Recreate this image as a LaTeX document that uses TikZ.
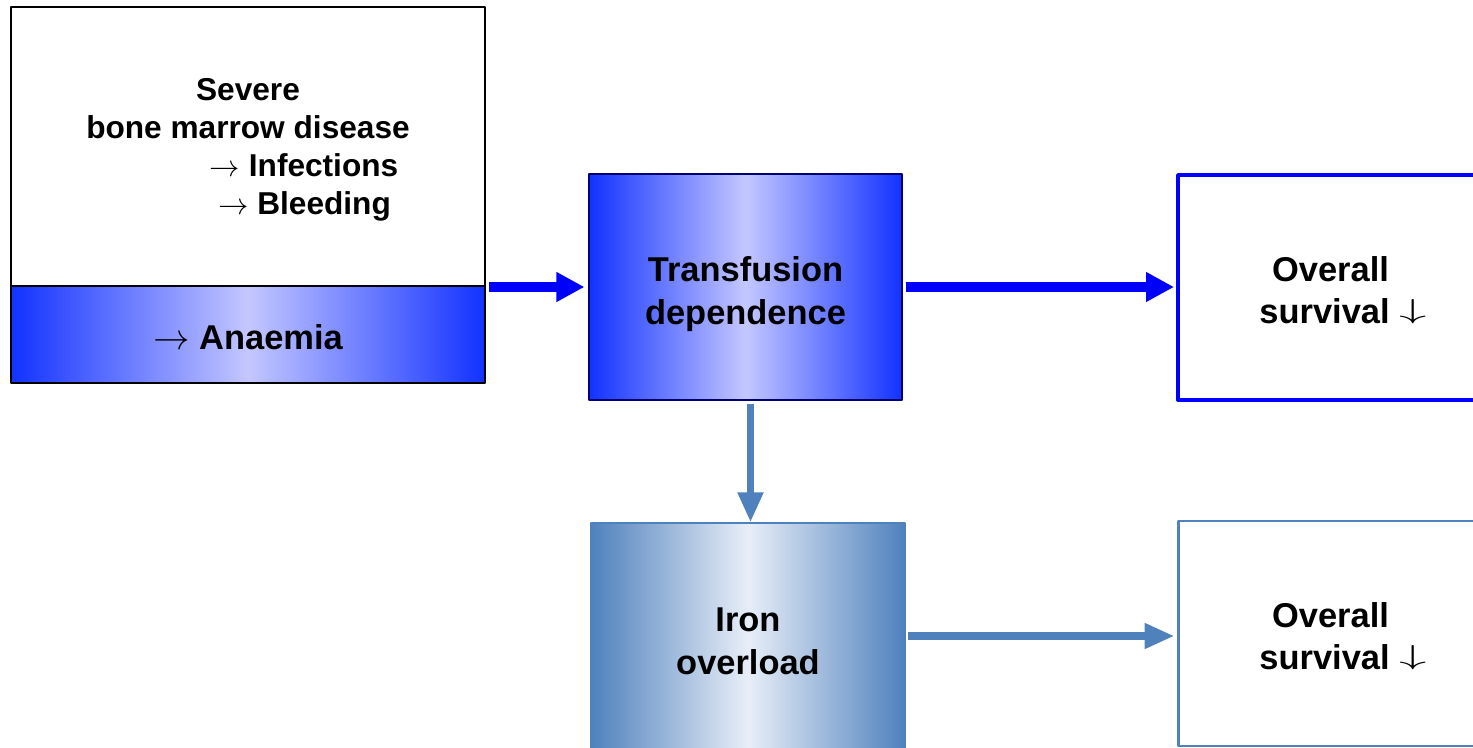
\documentclass[tikz,border=0pt]{standalone}
\usepackage{fontspec}
\setmainfont{Liberation Sans}
\usetikzlibrary{arrows.meta}
\definecolor{vivid}{HTML}{0000FF}
\definecolor{deepblue}{HTML}{1232FF}
\definecolor{paleblue}{HTML}{C4C7FF}
\definecolor{steel}{HTML}{4F81BD}
\definecolor{palesteel}{HTML}{E8EEF8}
\newcommand{\fallarrow}{\raisebox{0.1cm}{\scalebox{1.5}[0.75]{$\downarrow$}}}
\begin{document}
\begin{tikzpicture}[line join=round,
		box/.style={rectangle,inner sep=0pt,align=center,font=\bfseries\fontsize{19.6}{24}\selectfont},
		blueshade/.style={box,left color=deepblue,right color=deepblue,middle color=paleblue,draw=blue!45!black,line width=0.6pt},
		steelshade/.style={box,left color=steel,right color=steel,middle color=palesteel,draw=steel,line width=0.6pt},
		bluearrow/.style={draw=vivid,line width=5.7pt,-{Triangle[length=0.56cm,width=0.56cm]}},
		steelarrow/.style={draw=steel,line width=4.5pt,-{Triangle[length=0.6cm,width=0.48cm]}}]
			\useasboundingbox (0,0) rectangle (29.46,14.94);
			\clip (0,0) rectangle (29.46,14.94);
			% left column
			\node[box,draw=black,line width=1.1pt,minimum width=9.48cm,minimum height=5.58cm,font=\bfseries\fontsize{18}{21.6}\selectfont] (disease) at (4.96,12.01)
				{\rule{0pt}{0.57cm}Severe\\bone marrow disease\\\hspace*{2.24cm}$\rightarrow$ Infections\\\hspace*{2.26cm}$\rightarrow$ Bleeding};
			\node[blueshade,draw=black,line width=1.1pt,minimum width=9.48cm,minimum height=1.94cm] (anaemia) at (4.96,8.25) {\rule{0pt}{0.61cm}$\rightarrow$ Anaemia};
			% middle column
			\node[blueshade,minimum width=6.26cm,minimum height=4.52cm] (transfusion) at (14.91,9.2) {\rule{0pt}{0.78cm}Transfusion\\dependence};
			\node[steelshade,minimum width=6.28cm,minimum height=4.52cm] (iron) at (14.96,2.22) {\rule{0pt}{0.69cm}Iron\\overload};
			% right column
			\node[box,draw=vivid,line width=2.2pt,minimum width=6.1cm,minimum height=4.5cm] (survivalA) at (26.61,9.19) {\rule{0pt}{0.62cm}Overall\\\hspace*{0.5cm}survival \fallarrow};
			\node[box,draw=steel,line width=1.7pt,minimum width=6.1cm,minimum height=4.5cm] (survivalB) at (26.61,2.27) {\rule{0pt}{0.62cm}Overall\\\hspace*{0.5cm}survival \fallarrow};
			% connectors
			\draw[bluearrow,shorten <=0.06cm,shorten >=0.08cm] (transfusion.west -| disease.east) -- (transfusion.west);
			\draw[bluearrow,shorten <=0.06cm,shorten >=0.04cm] (transfusion.east) -- (transfusion.east -| survivalA.west);
			\draw[steelarrow,shorten <=0.06cm] ([xshift=0.1cm]transfusion.south) -- ([xshift=0.1cm]transfusion.south |- iron.north);
			\draw[steelarrow,shorten <=0.04cm,shorten >=0.04cm] (iron.east) -- (iron.east -| survivalB.west);
		\end{tikzpicture}
\end{document}
